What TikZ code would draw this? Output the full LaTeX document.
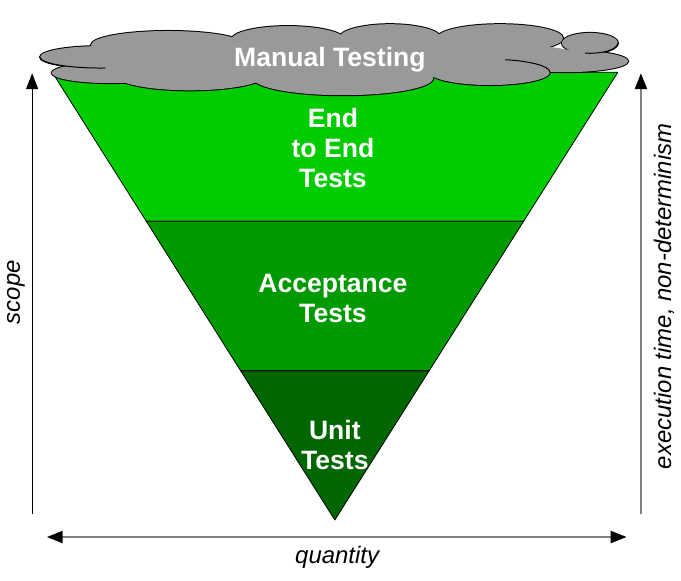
\documentclass[tikz,border=0pt]{standalone}
\usepackage{fontspec}
\setmainfont{Liberation Sans}
\usetikzlibrary{arrows.meta, calc}
\definecolor{pyrLight}{HTML}{00CC00}
\definecolor{pyrMid}{HTML}{009900}
\definecolor{pyrDark}{HTML}{006600}
\definecolor{cloudGray}{HTML}{999999}
\definecolor{axisGray}{HTML}{808080}
\newcommand{\cloudlobes}{2.65/13.84/1.59/0.29, 2.91/13.42/1.54/0.27, 5.03/13.36/1.98/0.40,
    9.08/13.28/2.38/0.45, 12.96/13.44/1.59/0.34, 14.95/13.73/1.67/0.29, 15.61/14.21/0.74/0.27,
    4.45/14.16/2.04/0.37, 7.62/14.29/1.51/0.37, 10.32/14.34/1.35/0.37, 13.23/14.34/1.67/0.37}

\begin{document}
\begin{tikzpicture}[
        >={Triangle[length=0.42cm, width=0.32cm, color=black]},
        tier/.style={draw=black, line width=0.6pt, line join=round},
        tiertext/.style={font=\fontsize{20}{22.5}\selectfont\bfseries, text=white, align=center},
        axistext/.style={font=\fontsize{18}{20}\selectfont\itshape},
        axisarrow/.style={line width=0.75pt, draw=black, ->},
        grayarrow/.style={line width=1.5pt, draw=axisGray}
    ]
        \useasboundingbox (0,0) rectangle (18.02,15.35);

        % --- pyramid, upside down ---
        \coordinate (tl) at (1.38,13.44);
        \coordinate (tr) at (16.35,13.44);
        \coordinate (apex) at (8.86,1.59);
        \coordinate (ul) at ($(apex)!0.667!(tl)$);
        \coordinate (ur) at ($(apex)!0.667!(tr)$);
        \coordinate (ll) at ($(apex)!0.333!(tl)$);
        \coordinate (lr) at ($(apex)!0.333!(tr)$);
        \draw[tier, fill=pyrLight] (tl) -- (tr) -- (ur) -- (ul) -- cycle;
        \draw[tier, fill=pyrMid] (ul) -- (ur) -- (lr) -- (ll) -- cycle;
        \draw[tier, fill=pyrDark] (ll) -- (lr) -- (apex) -- cycle;

        % --- cloud: outlines first, fills on top ---
        \foreach \cx/\cy/\rx/\ry in \cloudlobes
            \draw[line width=1.5pt] (\cx,\cy) ellipse [x radius=\rx, y radius=\ry];
        \foreach \cx/\cy/\rx/\ry in \cloudlobes
            \fill[cloudGray] (\cx,\cy) ellipse [x radius=\rx, y radius=\ry];
        \fill[cloudGray] (9.0,13.81) ellipse [x radius=6.6, y radius=0.55];
        % a few inner folds
        \draw[line width=0.75pt] (1.06,13.84) arc[start angle=180, end angle=275, x radius=1.59, y radius=0.29];
        \draw[line width=0.75pt] (16.35,14.21) arc[start angle=0, end angle=-100, x radius=0.74, y radius=0.27];
        \draw[line width=0.75pt] (13.37,13.77) arc[start angle=75, end angle=0, x radius=1.59, y radius=0.34];

        % --- labels ---
        \node[tiertext] (manual) at (8.73,13.78) {Manual Testing};
        \node[tiertext] (e2e) at (8.81,11.43) {End\\to End\\Tests};
        \node[tiertext] (accept) at (8.81,7.46) {Acceptance\\Tests};
        \node[tiertext] (unit) at (8.86,3.57) {Unit\\Tests};

        % --- axes ---
        \coordinate (scopeBot) at (0.85,1.75);
        \coordinate (scopeTop) at (0.85,13.41);
        \coordinate (execBot) at (16.96,1.75);
        \coordinate (execTop) at (16.96,13.41);
        \coordinate (qLeft) at (1.24,1.14);
        \coordinate (qRight) at (16.58,1.14);
        \draw[axisarrow] (scopeBot) -- (scopeTop);
        \draw[grayarrow, ->] (execBot) -- (execTop);
        \draw[grayarrow, <->] (qLeft) -- (qRight);
        \node[axistext, rotate=90] (scope) at (0.42,7.62) {scope};
        \node[axistext, rotate=90] (exec) at (17.57,7.51) {execution time, non-determinism};
        \node[axistext] (quantity) at (8.92,0.60) {quantity};
    \end{tikzpicture}
\end{document}
